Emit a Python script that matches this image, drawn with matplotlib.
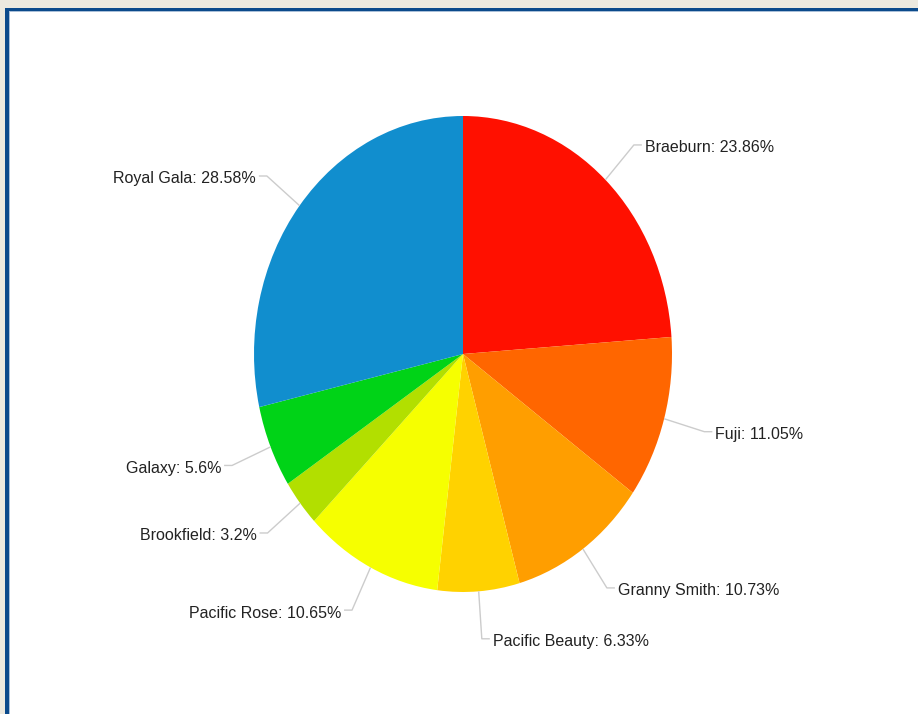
import numpy as np
import matplotlib.pyplot as plt
from matplotlib.patches import Rectangle

varieties = ['Braeburn', 'Fuji', 'Granny Smith', 'Pacific Beauty',
             'Pacific Rose', 'Brookfield', 'Galaxy', 'Royal Gala']
shares = [23.86, 11.05, 10.73, 6.33, 10.65, 3.2, 5.6, 28.58]
colors = ['#FF1000', '#FF6600', '#FF9E00', '#FFD200',
          '#F6FF00', '#B2DF00', '#00D317', '#118ECE']

W, H, DPI = 918, 714, 100
fig = plt.figure(figsize=(W / DPI, H / DPI), dpi=DPI, facecolor='#ECE9DF')

# window frame: blue border on top/left, white client area
def px_rect(x0, y0, x1, y1, color):
    fig.add_artist(Rectangle((x0 / W, 1 - y1 / H), (x1 - x0) / W, (y1 - y0) / H,
                             transform=fig.transFigure, facecolor=color,
                             edgecolor='none', zorder=0))

px_rect(5, 8, W, H, '#0B4A8B')
px_rect(9, 11, W, H, '#A9BFD8')
px_rect(10, 12, W, H, 'white')

# pie centre (463, 354) px, radii 209 x 238 px -> stretched pie
cx, cy, rx, ry = 463, 354, 209, 238
xl, yl = 1.6, 1.4
ax = fig.add_axes([(cx - xl * rx) / W, (H - cy - yl * ry) / H,
                   2 * xl * rx / W, 2 * yl * ry / H])
wedges, _ = ax.pie(shares, colors=colors, startangle=90, counterclock=False,
                   wedgeprops=dict(linewidth=0))
ax.set_aspect('auto')
ax.set_xlim(-xl, xl)
ax.set_ylim(-yl, yl)
ax.axis('off')

seg = 8 / rx
gap = 3 / rx
drop = 3 / ry
for w, name, val in zip(wedges, varieties, shares):
    mid = np.deg2rad((w.theta1 + w.theta2) / 2)
    c, s = np.cos(mid), np.sin(mid)
    side = 1 if c >= 0 else -1
    ex, ey = 1.2 * c, 1.2 * s
    ax.plot([1.0 * c, ex, ex + side * seg], [1.0 * s, ey, ey],
            color='#CCCCCC', lw=1, solid_capstyle='butt', clip_on=False)
    ax.text(ex + side * (seg + gap), ey - drop, f'{name}: {val:g}%',
            ha='left' if side > 0 else 'right', va='center',
            fontsize=11.5, family='Liberation Sans', color='#222222')

fig.savefig('out.png', dpi=DPI, facecolor=fig.get_facecolor())
